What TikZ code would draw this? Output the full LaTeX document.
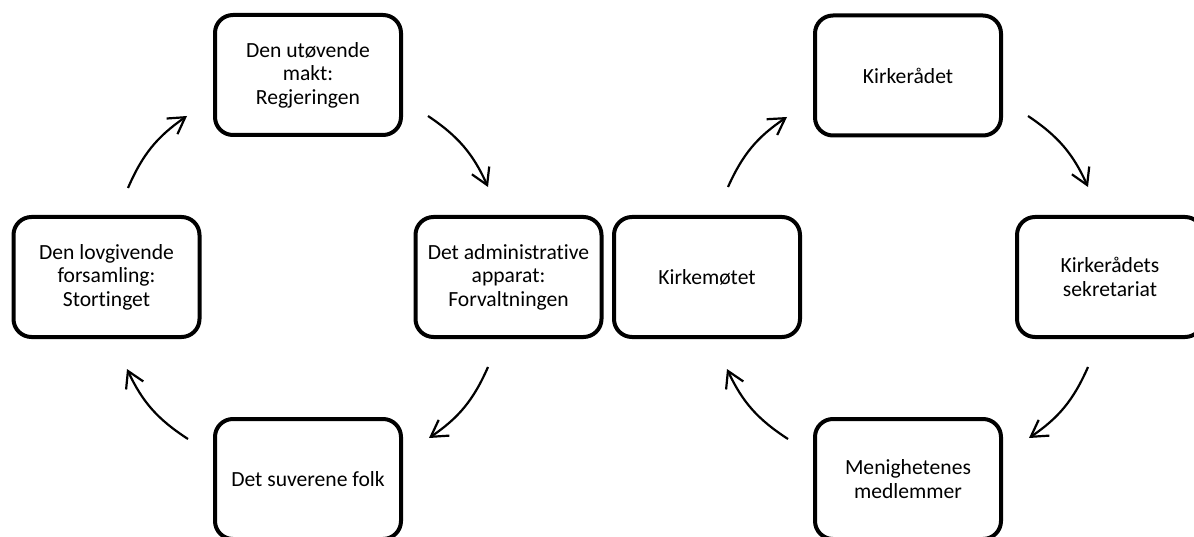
\documentclass[tikz,border=0pt]{standalone}
\usepackage{fontspec}
\setmainfont{Carlito}[Ligatures=NoCommon]
\usetikzlibrary{arrows.meta}
\begin{document}
\begin{tikzpicture}[x=1pt,y=-1pt,
  box/.style={draw=black, line width=4pt, rounded corners=18pt, rectangle,
    minimum width=186pt, minimum height=120pt, align=center, inner sep=0pt,
    font=\fontsize{21.6}{23.5}\selectfont},
  flow/.style={line width=2.2pt, -{Straight Barb[length=16pt,width=19pt]}, bend left=16}]
\useasboundingbox (0,0) rectangle (1194,537);
\fill[white] (0,0) rectangle (1194,537);
% left cycle
\node[box] (A) at (308,75) {Den utøvende\\makt:\\Regjeringen};
\node[box] (B) at (106.5,277) {Den lovgivende\\forsamling:\\Stortinget};
\node[box] (C) at (508.5,277) {Det administrative\\apparat:\\Forvaltningen};
\node[box] (D) at (308,479) {Det suverene folk};
% right cycle
\node[box] (E) at (707,277) {Kirkemøtet};
\node[box] (F) at (908,75.5) {Kirkerådet};
\node[box] (G) at (1110,277) {Kirkerådets\\sekretariat};
\node[box] (H) at (908,479) {Menighetenes\\medlemmer};
% arrow end points
\coordinate (ba1) at (128,188); \coordinate (ba2) at (187,116);
\coordinate (ac1) at (428,116); \coordinate (ac2) at (488,187);
\coordinate (cd1) at (488,367); \coordinate (cd2) at (429,438);
\coordinate (db1) at (188,439); \coordinate (db2) at (127,369);
\coordinate (ef1) at (728,187); \coordinate (ef2) at (787,117);
\coordinate (fg1) at (1028,116); \coordinate (fg2) at (1088,187);
\coordinate (gh1) at (1088,367); \coordinate (gh2) at (1029,438);
\coordinate (he1) at (788,439); \coordinate (he2) at (727,369);
\draw[flow] (ba1) to (ba2);
\draw[flow] (ac1) to (ac2);
\draw[flow] (cd1) to (cd2);
\draw[flow] (db1) to (db2);
\draw[flow] (ef1) to (ef2);
\draw[flow] (fg1) to (fg2);
\draw[flow] (gh1) to (gh2);
\draw[flow] (he1) to (he2);
\end{tikzpicture}
\end{document}
